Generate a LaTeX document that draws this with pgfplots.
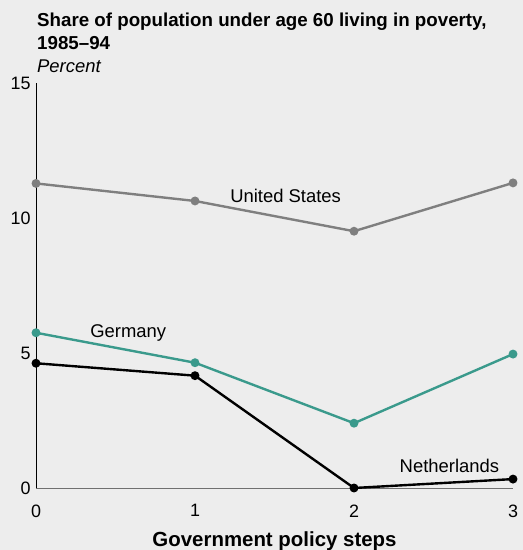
\documentclass[border=0pt]{standalone}
\usepackage{pgfplots}
\pgfplotsset{compat=1.18}
\usepackage{fontspec}
\setmainfont{Liberation Sans}
\definecolor{bgc}{HTML}{EDEDED}
\definecolor{usgray}{HTML}{7F7F7F}
\definecolor{deteal}{HTML}{3A9A8C}
\definecolor{axgray}{HTML}{707070}

\begin{document}
\begin{tikzpicture}[x=1bp,y=1bp]
	\fill[bgc] (0,0) rectangle (523,550);
	\useasboundingbox (0,0) rectangle (523,550);

	\node[anchor=base west,font=\fontsize{18.8}{22}\selectfont\bfseries,inner sep=0pt] at (37,523)
		{Share of population under age 60 living in poverty,};
	\node[anchor=base west,font=\fontsize{18.8}{22}\selectfont\bfseries,inner sep=0pt] at (37,500) {1985--94};
	\node[anchor=base west,font=\fontsize{18.5}{22}\selectfont\itshape,inner sep=0pt] at (37,477) {Percent};

	\begin{axis}[
			at                = {(36bp,62bp)},
			anchor            = origin,
			scale only axis,
			width             = 477bp,
			height            = 405bp,
			xmin              = 0,
			xmax              = 3,
			ymin              = 0,
			ymax              = 15,
			axis x line*      = bottom,
			axis y line*      = left,
			x axis line style = {axgray, line width=0.8pt, -},
			y axis line style = {black, line width=0.8pt, -},
			xtick             = {0,1,2,3},
			ytick             = {0,5,10,15},
			major tick length = 0pt,
			tick label style  = {font=\fontsize{18}{20}\selectfont},
			xticklabel style  = {yshift=-13bp},
			yticklabel style  = {xshift=-2bp},
			/pgf/number format/assume math mode=true,
			xlabel            = {Government policy steps},
			xlabel style      = {font=\fontsize{20.5}{24}\selectfont\bfseries, yshift=-8bp},
			clip              = false,
			every axis plot/.append style = {line width=2.4pt, mark=*, mark size=3.2pt},
		]

		\addplot [color=usgray, mark options={fill=usgray, draw=usgray}]
		coordinates {(0,11.28) (1,10.63) (2,9.51) (3,11.30)};

		\addplot [color=deteal, mark options={fill=deteal, draw=deteal}]
		coordinates {(0,5.75) (1,4.64) (2,2.40) (3,4.96)};

		\addplot [color=black, mark options={fill=black}]
		coordinates {(0,4.62) (1,4.16) (2,0) (3,0.33)};

		\node[font=\fontsize{18.5}{22}\selectfont] at (axis cs:1.57,10.81) {United States};
		\node[font=\fontsize{18.5}{22}\selectfont] at (axis cs:0.58,5.74) {Germany};
		\node[font=\fontsize{18.5}{22}\selectfont] at (axis cs:2.6,0.81) {Netherlands};
	\end{axis}
\end{tikzpicture}
\end{document}
